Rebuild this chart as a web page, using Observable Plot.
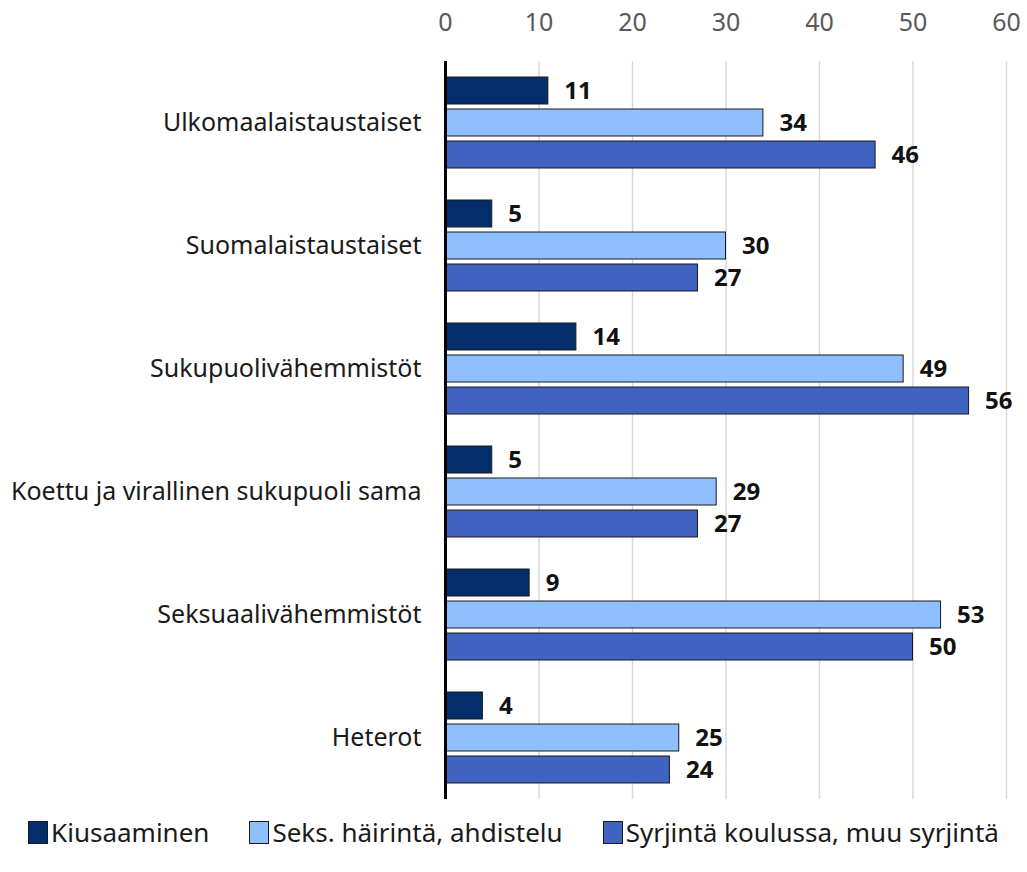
<!DOCTYPE html>
<html>
<head>
<meta charset="utf-8">
<script src="https://cdn.jsdelivr.net/npm/d3@7"></script>
<script src="https://cdn.jsdelivr.net/npm/@observablehq/plot@0.6"></script>
<style>
  html, body { margin: 0; padding: 0; background: #fff; }
  body { width: 1027px; height: 872px; font-family: "Noto Sans", sans-serif; }
  #chart svg { display: block; }
  .legend { display: flex; justify-content: center; gap: 40px; font-size: 26px; line-height: 30px; color: #1a1a1a; margin-top: 12px; }
  .legend span.item { display: flex; align-items: center; }
  .legend span.sw { display: inline-block; width: 20px; height: 23px; border: 1px solid #1a1a1a; margin-right: 3px; box-sizing: border-box; }
</style>
</head>
<body>
<div id="chart"></div>
<div class="legend" id="legend"></div>
<script>
const categories = ["Ulkomaalaistaustaiset", "Suomalaistaustaiset", "Sukupuolivähemmistöt", "Koettu ja virallinen sukupuoli sama", "Seksuaalivähemmistöt", "Heterot"];
const seriesNames = ["Kiusaaminen", "Seks. häirintä, ahdistelu", "Syrjintä koulussa, muu syrjintä"];
const kiusaaminen = [11, 5, 14, 5, 9, 4];
const seksHairinta = [34, 30, 49, 29, 53, 25];
const syrjinta = [46, 27, 56, 27, 50, 24];
const seriesColors = ["#032e6b", "#8fbfff", "#4062c0"];
const xTicks = [0, 10, 20, 30, 40, 50, 60];

const seriesValues = [kiusaaminen, seksHairinta, syrjinta];
const data = [];
categories.forEach((c, i) => {
  seriesNames.forEach((s, j) => data.push({category: c, series: s, value: seriesValues[j][i]}));
});

const chart = Plot.plot({
  width: 1027,
  height: 805,
  marginTop: 60,
  marginBottom: 5,
  marginLeft: 445,
  marginRight: 21,
  style: {fontFamily: "Noto Sans, sans-serif", fontSize: "25px", background: "#fff"},
  x: {domain: [0, 60], axis: null},
  y: {domain: seriesNames, axis: null, paddingInner: 0.15, paddingOuter: 0.44},
  fy: {domain: categories, label: null, padding: 0, axis: null},
  color: {domain: seriesNames, range: seriesColors},
  marks: [
    Plot.ruleX(xTicks.filter(d => d > 0), {stroke: "#d9d9d9", strokeWidth: 1.5}),
    Plot.barX(data, {fy: "category", y: "series", x: "value", fill: "series", stroke: "#1a1a1a", strokeWidth: 1}),
    Plot.text(data, {fy: "category", y: "series", x: "value", text: d => String(d.value), textAnchor: "start", dx: 16, fontWeight: "bold", fill: "#111", fontSize: 24}),
    Plot.ruleX([0], {stroke: "#000", strokeWidth: 3}),
    Plot.axisFy({anchor: "left", tickSize: 0, tickPadding: 24, label: null, fontSize: 25, fill: "#1a1a1a"}),
    Plot.axisX({anchor: "top", ticks: xTicks, tickSize: 0, tickPadding: 31, label: null, fill: "#595959", fontSize: 25, facetAnchor: "top"})
  ]
});
document.getElementById("chart").appendChild(chart);

const legend = document.getElementById("legend");
seriesNames.forEach((s, j) => {
  const item = document.createElement("span");
  item.className = "item";
  const sw = document.createElement("span");
  sw.className = "sw";
  sw.style.background = seriesColors[j];
  item.appendChild(sw);
  item.appendChild(document.createTextNode(s));
  legend.appendChild(item);
});
</script>
</body>
</html>
